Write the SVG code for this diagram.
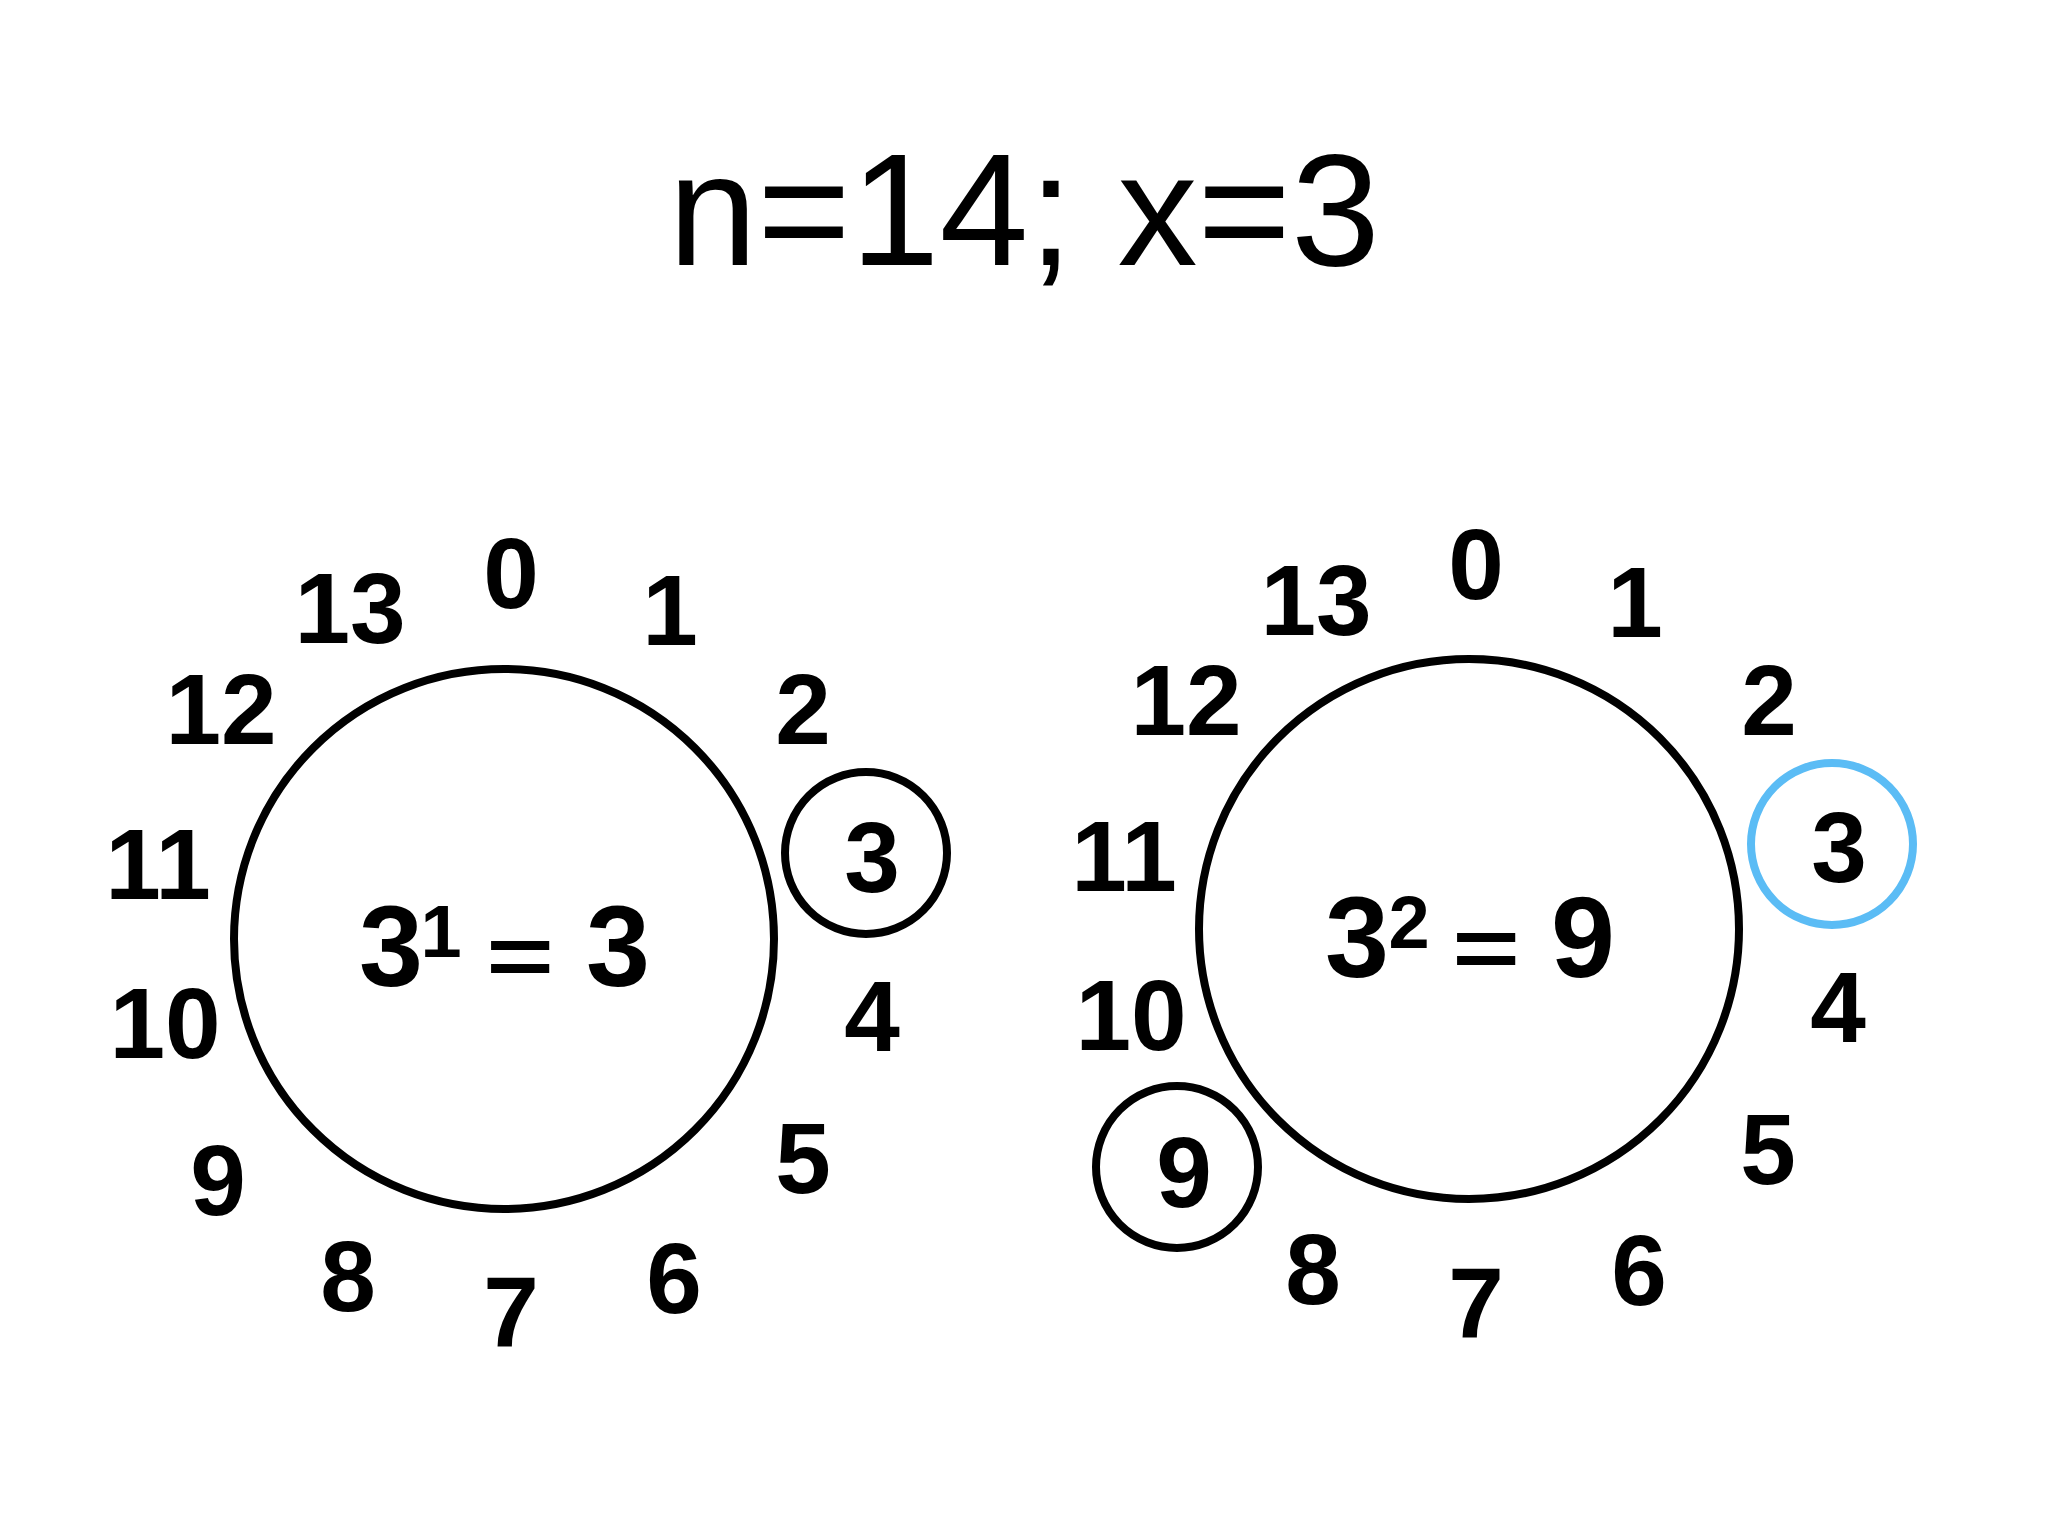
<svg xmlns="http://www.w3.org/2000/svg" width="2048" height="1536" viewBox="0 0 2048 1536">
<style>
.ring{fill:none;stroke:#000;stroke-width:8}
.mark{fill:none;stroke:#000;stroke-width:8}
.blue{fill:none;stroke:#5bbcf5;stroke-width:8}
.lbl{font-family:"Liberation Sans",Arial,sans-serif;font-weight:bold;font-size:100px;text-anchor:middle;fill:#000}
.eq{font-family:"Liberation Sans",Arial,sans-serif;font-weight:bold;font-size:115px;text-anchor:middle;fill:#000}
.eqs{font-family:"Liberation Sans",Arial,sans-serif;font-weight:bold;font-size:116px;text-anchor:middle;fill:#000}
.sup{font-family:"Liberation Sans",Arial,sans-serif;font-weight:bold;font-size:74px;text-anchor:middle;fill:#000}
.title{font-family:"Liberation Sans",Arial,sans-serif;font-size:160px;text-anchor:middle;fill:#000}
</style>
<rect width="2048" height="1536" fill="#fff"/>
<text id="title" class="title" x="1024" y="265">n=14; x=3</text>

<g id="clock1">
<circle class="ring" cx="504" cy="939" r="270"/>
<text class="lbl" x="511" y="608">0</text>
<text class="lbl" x="670" y="645">1</text>
<text class="lbl" x="803" y="744">2</text>
<text class="lbl" x="872" y="892">3</text>
<text class="lbl" x="872" y="1051">4</text>
<text class="lbl" x="803" y="1193">5</text>
<text class="lbl" x="674" y="1313">6</text>
<text class="lbl" x="511" y="1347">7</text>
<text class="lbl" x="348" y="1311">8</text>
<text class="lbl" x="218" y="1215">9</text>
<text class="lbl" x="165" y="1058">10</text>
<text class="lbl" x="158" y="899">11</text>
<text class="lbl" x="221" y="744">12</text>
<text class="lbl" x="350" y="643">13</text>
<text class="eq" x="391" y="986">3</text>
<text class="sup" x="441" y="957">1</text>
<text class="eqs" transform="translate(520,955) scale(1,0.72)" x="0" y="42">=</text>
<text class="eq" x="618" y="986">3</text>
</g>
<g id="mark1">
<circle class="mark" cx="866" cy="853" r="81"/>
</g>

<g id="clock2">
<circle class="ring" cx="1469" cy="929" r="270"/>
<text class="lbl" x="1476" y="599">0</text>
<text class="lbl" x="1635" y="637">1</text>
<text class="lbl" x="1769" y="735">2</text>
<text class="lbl" x="1839" y="882">3</text>
<text class="lbl" x="1838" y="1042">4</text>
<text class="lbl" x="1768" y="1184">5</text>
<text class="lbl" x="1639" y="1305">6</text>
<text class="lbl" x="1476" y="1338">7</text>
<text class="lbl" x="1313" y="1304">8</text>
<text class="lbl" x="1184" y="1207">9</text>
<text class="lbl" x="1131" y="1050">10</text>
<text class="lbl" x="1124" y="891">11</text>
<text class="lbl" x="1186" y="735">12</text>
<text class="lbl" x="1316" y="635">13</text>
<text class="eq" x="1357" y="977">3</text>
<text class="sup" x="1409" y="948">2</text>
<text class="eqs" transform="translate(1486,947) scale(1,0.72)" x="0" y="42">=</text>
<text class="eq" x="1583" y="977">9</text>
</g>
<g id="mark2">
<circle class="blue" cx="1832" cy="844" r="81"/>
<circle class="mark" cx="1177" cy="1167" r="81"/>
</g>
<g id="connectors"/>
</svg>
